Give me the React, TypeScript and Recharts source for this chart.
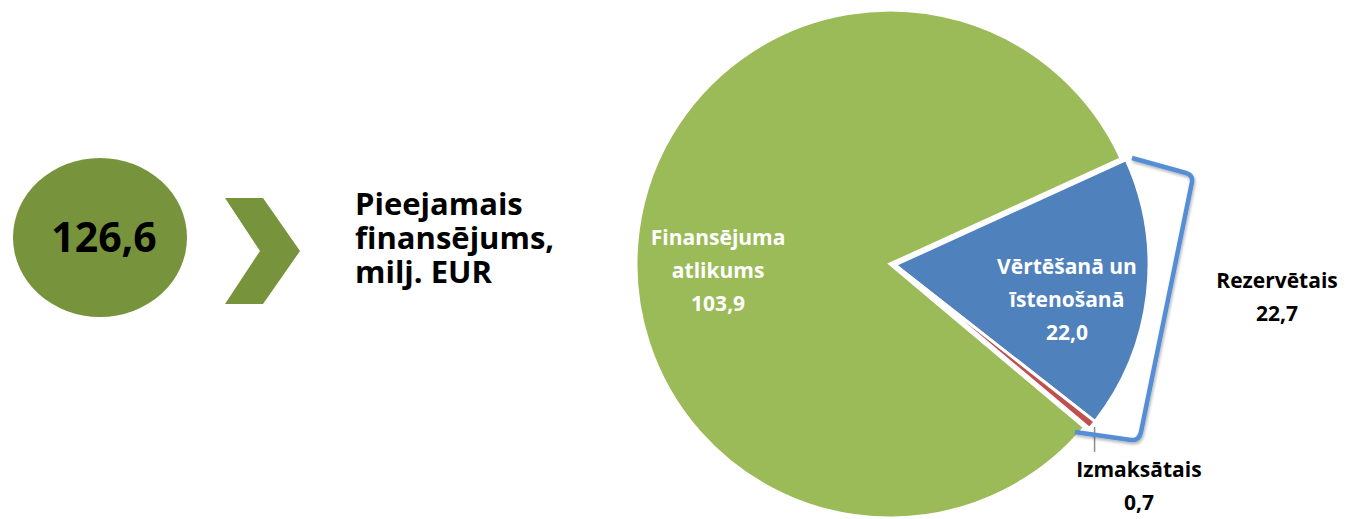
import React from 'react';
import { PieChart, Pie, Cell } from 'recharts';

// slices, clockwise from the top edge of the blue slice
const categories = ['Vērtēšanā un\nīstenošanā', 'Izmaksātais', 'Finansējuma\natlikums'];
const values = [22.0, 0.7, 103.9];
const colors = ['#4F81BD', '#C0504D', '#9BBB59'];
// the bracket groups these slices
const reservedIdx = [0, 1];
const reservedLabel = 'Rezervētais';
const totalCaption = ['Pieejamais', 'finansējums,', 'milj. EUR'];

const W = 1347;
const H = 519;
const FONT = '"Open Sans", sans-serif';
const RAD = Math.PI / 180;
const START = 24.5;

const fmt = (v: number) => v.toFixed(1).replace('.', ',');

const data = categories.map((name, i) => ({ name, value: values[i] }));
const total = values.reduce((a, b) => a + b, 0);
const reserved = reservedIdx.reduce((a, i) => a + values[i], 0);

// label placement tweaks per slice: angle shift, radius, inside or not
const labelPlace = [
  { dAngle: -4.7, r: 175.5, inside: true },
  { dAngle: -3.2, r: 329.6, inside: false },
  { dAngle: 10, r: 172, inside: true },
];

const polar = (cx: number, cy: number, r: number, a: number) => ({
  x: cx + r * Math.cos(-a * RAD),
  y: cy + r * Math.sin(-a * RAD),
});

const makeLabel = (shown: number[]) => (props: any) => {
  const { cx, cy, midAngle, outerRadius, index, name, value } = props;
  if (!shown.includes(index)) return null;
  const p = labelPlace[index];
  const a = polar(cx, cy, p.r, midAngle + p.dAngle);
  const lines = [...String(name).split('\n'), fmt(value)];
  const step = 33;
  const first = a.y + 7 - ((lines.length - 1) * step) / 2;
  let leader = null;
  if (!p.inside) {
    const s = polar(cx, cy, outerRadius + 3, midAngle);
    leader = <line x1={s.x} y1={s.y} x2={s.x} y2={s.y + 25} stroke="#8c8c8c" strokeWidth={1.5} />;
  }
  return (
    <g key={`lbl-${index}`}>
      {leader}
      <text
        x={a.x}
        textAnchor="middle"
        fontFamily={FONT}
        fontWeight={700}
        fontSize={21}
        fill={p.inside ? '#ffffff' : '#000000'}
      >
        {lines.map((l, i) => (
          <tspan key={i} x={a.x} y={first + i * step}>
            {l}
          </tspan>
        ))}
      </text>
    </g>
  );
};

export default function App() {
  return (
    <div style={{ position: 'absolute', left: 0, top: 0, width: W, height: H, background: '#fff' }}>
      <PieChart width={W} height={H} margin={{ top: 0, right: 0, bottom: 0, left: 0 }}>
        <Pie
          data={data}
          dataKey="value"
          nameKey="name"
          cx={890}
          cy={264}
          outerRadius={254}
          startAngle={START}
          endAngle={START - 360}
          stroke="#ffffff"
          strokeWidth={3}
          labelLine={false}
          label={makeLabel([2])}
          isAnimationActive={false}
        >
          {data.map((d, i) => (
            <Cell key={i} fill={i === 2 ? colors[i] : 'none'} stroke={i === 2 ? '#ffffff' : 'none'} />
          ))}
        </Pie>
        <Pie
          data={data}
          dataKey="value"
          nameKey="name"
          cx={895}
          cy={265}
          outerRadius={254}
          startAngle={START}
          endAngle={START - 360}
          stroke="#ffffff"
          strokeWidth={3}
          labelLine={false}
          label={makeLabel([0, 1])}
          isAnimationActive={false}
        >
          {data.map((d, i) => (
            <Cell key={i} fill={i !== 2 ? colors[i] : 'none'} stroke={i !== 2 ? '#ffffff' : 'none'} />
          ))}
        </Pie>
      </PieChart>
      <svg
        width={W}
        height={H}
        style={{ position: 'absolute', left: 0, top: 0, pointerEvents: 'none' }}
      >
        <defs>
          <filter id="sh" x="-10%" y="-10%" width="120%" height="120%">
            <feDropShadow dx="1" dy="2" stdDeviation="1.5" floodColor="#000" floodOpacity="0.3" />
          </filter>
        </defs>
        <ellipse cx={100} cy={237.5} rx={87} ry={79.5} fill="#77933C" />
        <text x={104} y={252} textAnchor="middle" fontFamily={FONT} fontWeight={700} fontSize={41} fill="#000">
          {fmt(total)}
        </text>
        <polygon points="225,198 263,198 300,251 263,304 225,304 260,251" fill="#77933C" />
        <text fontFamily={FONT} fontWeight={700} fontSize={31} fill="#000">
          {totalCaption.map((l, i) => (
            <tspan key={i} x={355} y={215 + i * 34}>
              {l}
            </tspan>
          ))}
        </text>
        <path
          d="M1132,158 L1186,173 Q1193,175 1192,182 L1141,432 Q1139,441 1131,440 L1075,432"
          fill="none"
          stroke="#558ED5"
          strokeWidth={4.5}
          strokeLinejoin="round"
          filter="url(#sh)"
        />
        <text textAnchor="middle" fontFamily={FONT} fontWeight={700} fontSize={21} fill="#000">
          <tspan x={1277} y={288}>
            {reservedLabel}
          </tspan>
          <tspan x={1277} y={321}>
            {fmt(reserved)}
          </tspan>
        </text>
      </svg>
    </div>
  );
}
